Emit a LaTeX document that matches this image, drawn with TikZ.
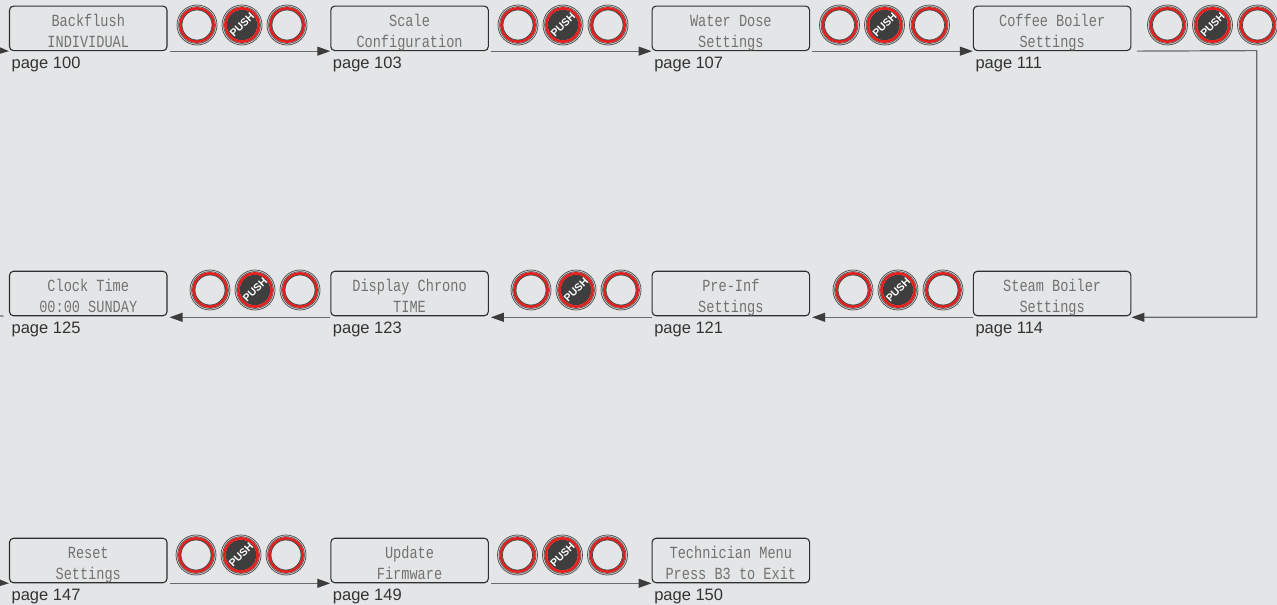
\documentclass[tikz,border=0pt]{standalone}
\usepackage{fontspec}
\setmainfont{Liberation Sans}
\newfontfamily\lcdfont{Liberation Mono}[FakeStretch=0.8]
\usetikzlibrary{arrows.meta}
\definecolor{bg}{HTML}{E4E5E6}
\definecolor{boxline}{HTML}{2E2E2E}
\definecolor{lcdgray}{HTML}{727272}
\definecolor{pagecol}{HTML}{333333}
\definecolor{ringgray}{HTML}{555555}
\definecolor{btnred}{HTML}{E3201E}
\definecolor{btndark}{HTML}{3E3E3E}
\definecolor{linegray}{HTML}{6A6A6A}
\definecolor{tipdark}{HTML}{3C3C3C}
\tikzset{
  lcdbox/.style={rectangle, rounded corners=4pt, draw=boxline, line width=1.1pt,
    minimum width=157.5pt, minimum height=44.5pt, inner sep=0pt},
  lcdtext/.style={inner sep=0pt, text=lcdgray, font=\lcdfont\fontsize{17}{21}\selectfont},
  pagetext/.style={inner sep=0pt, text=pagecol, font=\fontsize{16.5}{18}\selectfont},
  btn/.style={circle, minimum size=40pt, inner sep=0pt, draw=ringgray, line width=0.8pt,
    path picture={
      \draw[ringgray, line width=0.8pt] (path picture bounding box.center) circle (18.4pt);
      \draw[btnred, line width=2.6pt] (path picture bounding box.center) circle (16.6pt);
      \draw[btndark, line width=0.7pt] (path picture bounding box.center) circle (15.0pt);
    }},
  pushbtn/.style={btn, text=white, font=\bfseries\fontsize{10.5}{10.5}\selectfont,
    path picture={
      \fill[btndark] (path picture bounding box.center) circle (15.3pt);
      \draw[ringgray, line width=0.8pt] (path picture bounding box.center) circle (18.4pt);
      \draw[btnred, line width=2.6pt] (path picture bounding box.center) circle (16.6pt);
    }},
  conn/.style={draw=linegray, line width=1.2pt},
  arr/.style={conn, -{Triangle[length=13pt,width=9pt,color=tipdark]}},
}
\newcommand\mkbox[6]{%
  \node[lcdbox] (#1) at (#2,#3) {};
  \node[lcdtext, anchor=base] (#1a) at ([yshift=-20.7pt]#1.north) {#4};
  \node[lcdtext, anchor=base] (#1b) at ([yshift=-41.7pt]#1.north) {#5};
  \node[pagetext, anchor=base west] (#1p) at ([xshift=2.5pt,yshift=-17.6pt]#1.south west) {page #6};
}
\newcommand\mkbtns[3]{%
  \node[btn] (#1x) at (#2,#3) {};
  \node[pushbtn] (#1y) at (#2+45,#3) {\rotatebox{45}{PUSH}};
  \node[btn] (#1z) at (#2+90,#3) {};
}
\begin{document}
\begin{tikzpicture}[x=1pt,y=-1pt]
\fill[bg] (0,0) rectangle (1277,605);
\useasboundingbox (0,0) rectangle (1277,605);

% row 1
\mkbox{a1}{88.25}{28.35}{Backflush}{INDIVIDUAL}{100}
\mkbox{a2}{409.55}{28.35}{Scale}{Configuration}{103}
\mkbox{a3}{730.85}{28.35}{Water Dose}{Settings}{107}
\mkbox{a4}{1052.15}{28.35}{Coffee Boiler}{Settings}{111}
\mkbtns{ba1}{197}{25}
\mkbtns{ba2}{518}{25}
\mkbtns{ba3}{839.5}{25}
\mkbtns{ba4}{1167.5}{25}

% row 2
\mkbox{c1}{88.25}{293.5}{Clock Time}{00:00 SUNDAY}{125}
\mkbox{c2}{409.55}{293.5}{Display Chrono}{TIME}{123}
\mkbox{c3}{730.85}{293.5}{Pre-Inf}{Settings}{121}
\mkbox{c4}{1052.15}{293.5}{Steam Boiler}{Settings}{114}
\mkbtns{bc1}{210}{290}
\mkbtns{bc2}{531}{290}
\mkbtns{bc3}{853}{290}

% row 3
\mkbox{e1}{88.25}{560.5}{Reset}{Settings}{147}
\mkbox{e2}{409.55}{560.5}{Update}{Firmware}{149}
\mkbox{e3}{730.85}{560.5}{Technician Menu}{Press B3 to Exit}{150}
\mkbtns{be1}{196}{555}
\mkbtns{be2}{517.5}{555}

% free ends
\coordinate (in1) at (0,50.6);
\coordinate (out2) at (0,315.8);
\coordinate (in3) at (0,582.8);
\coordinate (turn) at (1256.7,50.6);

% connectors
\draw[arr] (in1) -- (a1.south west);
\draw[arr, shorten <=2pt] (a1.south east) -- (a2.south west);
\draw[arr, shorten <=2pt] (a2.south east) -- (a3.south west);
\draw[arr, shorten <=2pt] (a3.south east) -- (a4.south west);
\draw[arr, shorten <=5.5pt] (a4.south east) -- (turn) |- ([yshift=-1pt]c4.south east);
\draw[arr] ([yshift=-1pt]c4.south west) -- ([xshift=2pt,yshift=-1pt]c3.south east);
\draw[arr] ([yshift=-1pt]c3.south west) -- ([xshift=2pt,yshift=-1pt]c2.south east);
\draw[arr] ([yshift=-1pt]c2.south west) -- ([xshift=2pt,yshift=-1pt]c1.south east);
\draw[conn, shorten <=5.5pt] ([yshift=-0.5pt]c1.south west) -- (out2);
\draw[arr] (in3) -- (e1.south west);
\draw[arr, shorten <=2pt] (e1.south east) -- (e2.south west);
\draw[arr, shorten <=2pt] (e2.south east) -- (e3.south west);
\end{tikzpicture}
\end{document}
